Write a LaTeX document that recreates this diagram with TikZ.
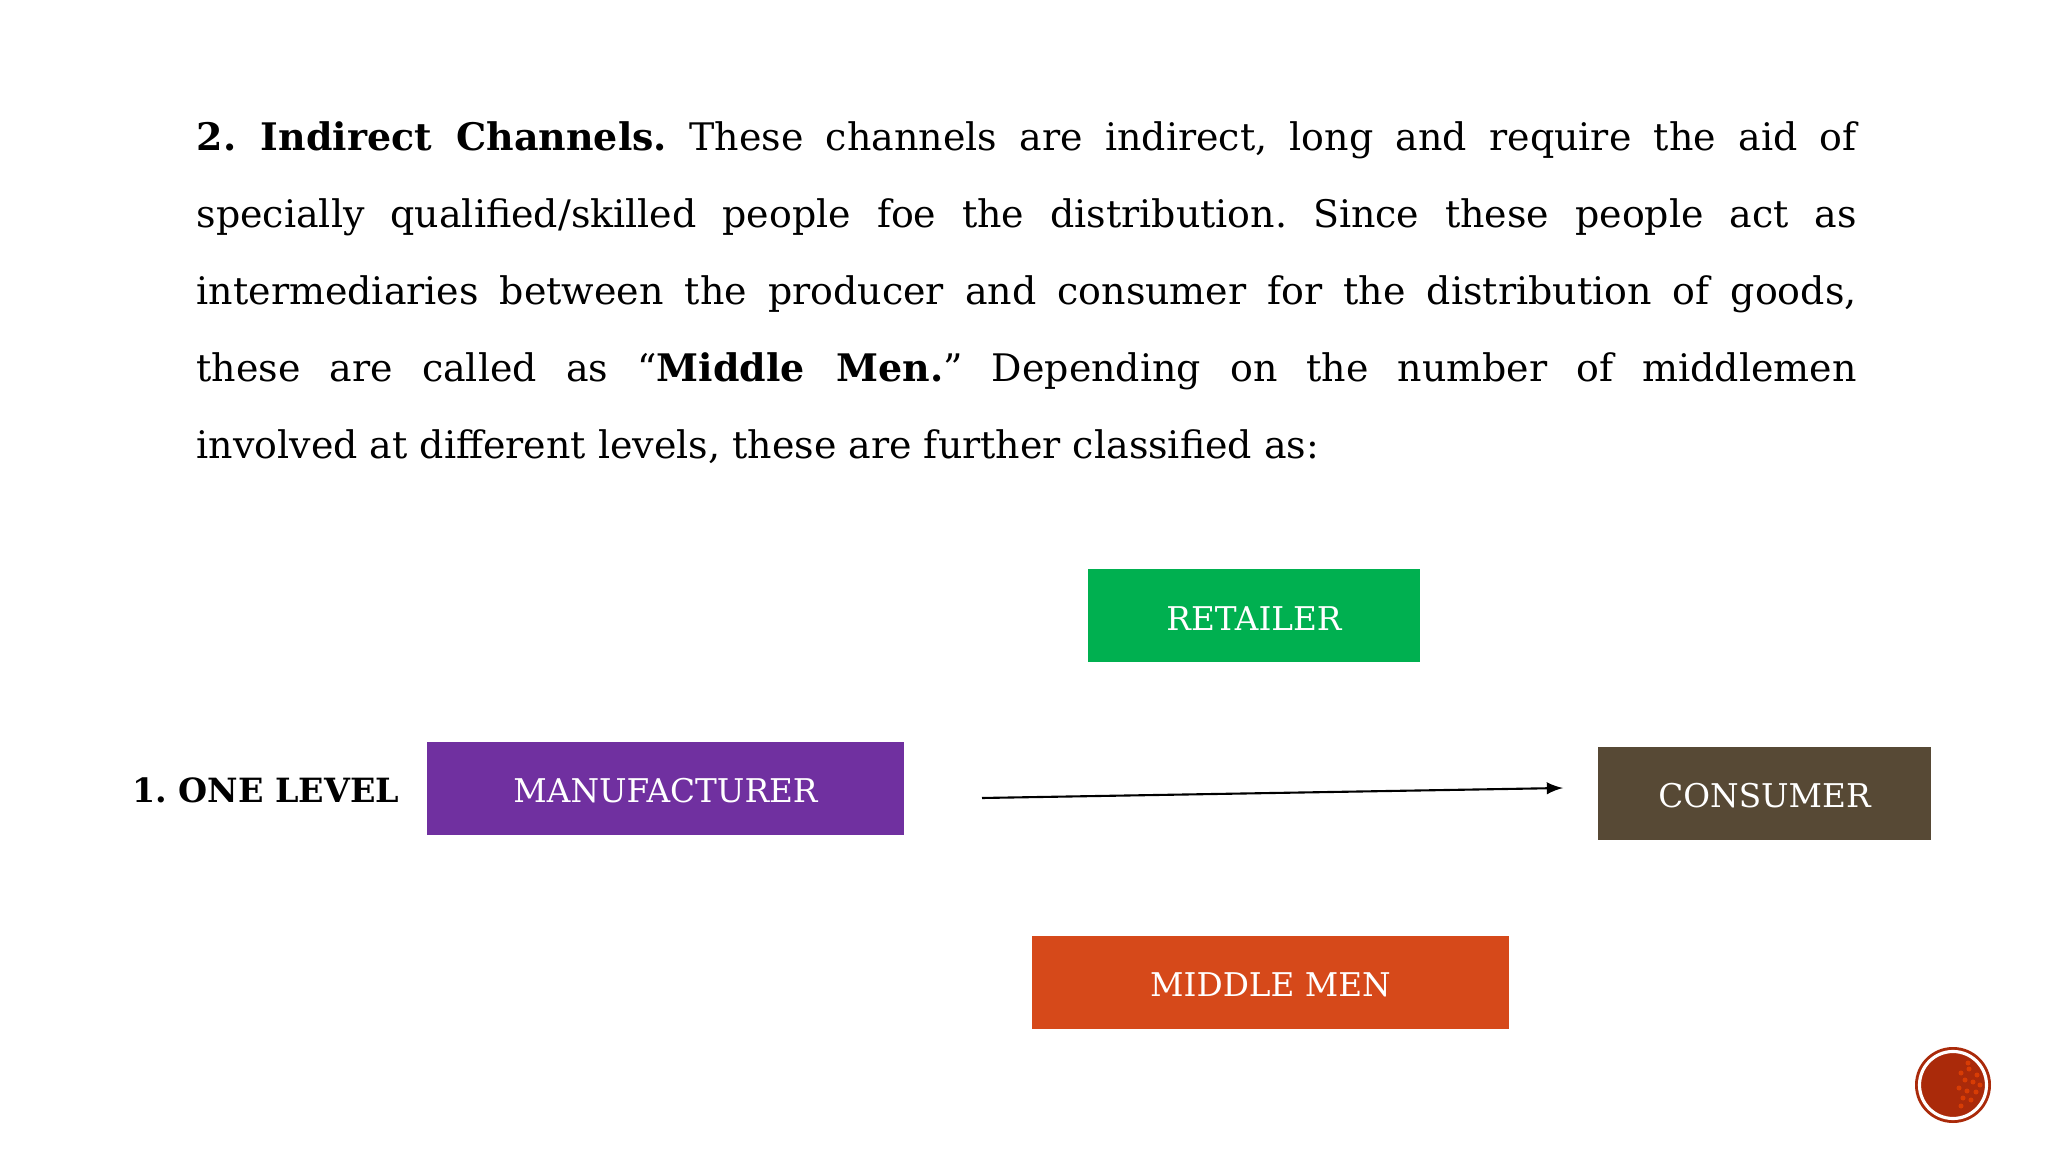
\documentclass[tikz,border=0pt]{standalone}
\usepackage{fontspec}
\setmainfont{DejaVu Serif}
\usetikzlibrary{arrows.meta}

\tikzset{
	channel/.style = {rectangle, text = white, minimum height = 0.93 cm, inner sep = 0 pt, text height = 8 pt, text depth = 0 pt, font = \fontsize{9.3}{12}\selectfont}
}

\begin{document}
\frenchspacing
\begin{tikzpicture}[> = latex]

	% Page
	
	\useasboundingbox [fill = white] (0, 0) rectangle (20.48, -11.52);
	
	% Paragraph
	
	\node (intro) [anchor = north west, inner sep = 0 pt, text width = 16.6 cm, align = justify, font = \fontsize{10.8}{21.9}\selectfont] at (1.96, -1.21)
	{\textbf{2. Indirect Channels.} These channels are indirect, long and require the aid of\linebreak
	specially qualified/skilled people foe the distribution. Since these people act as\linebreak
	intermediaries between the producer and consumer for the distribution of goods,\linebreak
	these are called as ``\textbf{Middle Men.}'' Depending on the number of middlemen\linebreak
	involved at different levels, these are further classified as:};
	
	% Boxes
	
	\node (retailer) [channel, fill = {rgb,255:red,0;green,176;blue,80}, minimum width = 3.32 cm] at (12.54, -6.16) {RETAILER};
	\node (manufacturer) [channel, fill = {rgb,255:red,112;green,48;blue,160}, minimum width = 4.77 cm] at (6.655, -7.885) {MANUFACTURER};
	\node (consumer) [channel, fill = {rgb,255:red,87;green,73;blue,53}, minimum width = 3.33 cm] at (17.645, -7.935) {CONSUMER};
	\node (middlemen) [channel, fill = {rgb,255:red,214;green,73;blue,26}, minimum width = 4.77 cm] at (12.705, -9.82) {MIDDLE MEN};
	
	% Level label
	
	\node (level) [anchor = east, inner sep = 0 pt, font = \fontsize{9.5}{12}\selectfont\bfseries] at (4.0, -7.9) {1. ONE LEVEL};
	
	% Arrow
	
	\coordinate (start) at (9.82, -7.98);
	\coordinate (end) at (15.63, -7.88);
	\draw [->, semithick] (start) -- (end);
	
	% Page number badge
	
	\fill [fill = {rgb,255:red,170;green,42;blue,10}] (19.53, -10.85) circle (0.38);
	\draw [white, line width = 0.9 pt] (19.53, -10.85) circle (0.335);
	\foreach \X/\Y in {0.08/0.12, 0.16/0.16, 0.24/0.1, 0.12/0.05, 0.2/0.03, 0.27/0.0, 0.06/-0.03, 0.14/-0.06, 0.23/-0.07, 0.1/-0.13, 0.18/-0.15, 0.08/-0.21, 0.15/0.22}
	{
		\fill [orange!60!red, opacity = 0.55] (19.53 + \X, -10.85 + \Y) circle (0.025);
	}

\end{tikzpicture}
\end{document}
